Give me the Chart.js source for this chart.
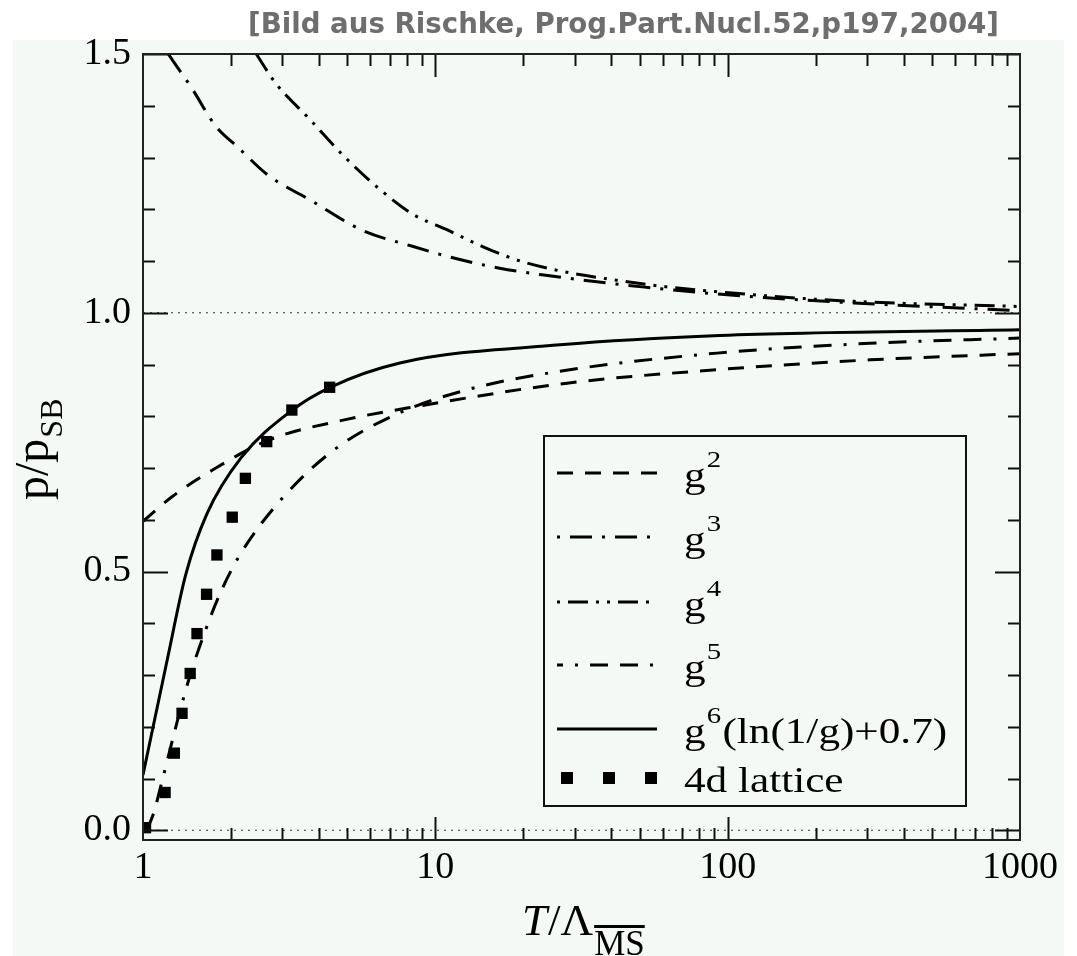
<!DOCTYPE html>
<html lang="de">
<head>
<meta charset="UTF-8">
<title>p/p_SB gegen T/Lambda</title>
<script src="https://cdn.jsdelivr.net/npm/chart.js"></script>
<style>
  body { margin: 0; background: #fff; }
  #wrap { position: relative; width: 1077px; height: 956px; }
</style>
</head>
<body>
<div id="wrap"><canvas id="c" width="1077" height="956"></canvas></div>
<script>
// x = T / Lambda_MSbar (log), y = p / p_SB
var g2T = [1, 1.26, 1.74, 2.69, 4.88, 8.64, 28.2, 92, 307, 1000];
var g2P = [0.597, 0.645, 0.697, 0.754, 0.793, 0.819, 0.864, 0.890, 0.909, 0.921];

var g3T = [1.22, 1.48, 1.77, 2.10, 2.69, 3.73, 5.6, 8.4, 11, 16.6, 22.8, 51, 115, 270, 1000];
var g3P = [1.5, 1.431, 1.361, 1.321, 1.265, 1.218, 1.160, 1.128, 1.109, 1.086, 1.074, 1.050, 1.032, 1.019, 1.004];

var g4T = [2.44, 2.84, 3.73, 4.88, 6.41, 8.4, 11, 14.5, 20.6, 51, 115, 270, 1000];
var g4P = [1.5, 1.444, 1.373, 1.302, 1.24, 1.19, 1.160, 1.128, 1.096, 1.056, 1.036, 1.022, 1.012];

var g5T = [1.03, 1.09, 1.15, 1.23, 1.33, 1.45, 1.62, 1.83, 2.16, 3.0, 4.5, 7.3, 12.8, 26.7, 92, 307, 1000];
var g5P = [0.0, 0.035, 0.085, 0.15, 0.225, 0.30, 0.38, 0.456, 0.535, 0.642, 0.735, 0.803, 0.851, 0.887, 0.922, 0.941, 0.951];

var g6T = [1, 1.21, 1.40, 1.65, 2.16, 3.24, 4.37, 7.57, 26.7, 94, 1000];
var g6P = [0.107, 0.329, 0.494, 0.61, 0.719, 0.812, 0.856, 0.903, 0.938, 0.956, 0.967];

var latT = [1.02, 1.19, 1.28, 1.36, 1.45, 1.53, 1.65, 1.79, 2.02, 2.24, 2.65, 3.23, 4.35];
var latP = [0.005, 0.073, 0.149, 0.226, 0.303, 0.38, 0.456, 0.532, 0.605, 0.68, 0.751, 0.812, 0.856];

var seriesLabels = ['g^2', 'g^3', 'g^4', 'g^5', 'g^6(ln(1/g)+0.7)', '4d lattice'];
var xRange = [1, 1000];
var xTicks = [1, 10, 100, 1000];
var yTicks = [0, 0.5, 1.0, 1.5];
var refLevels = [0, 1];

function pts(ts, ps) {
    return ts.map(function (t, i) { return { x: t, y: ps[i] }; });
}

function curve(label, ts, ps, dash, legendOffset) {
    return {
        label: label,
        data: pts(ts, ps),
        showLine: true,
        borderColor: '#000',
        borderWidth: 3,
        borderDash: dash,
        legendOffset: legendOffset,
        pointRadius: 0,
        cubicInterpolationMode: 'monotone'
    };
}

var datasets = [
    curve(seriesLabels[0], g2T, g2P, [16, 12], 0),
    curve(seriesLabels[1], g3T, g3P, [22, 10, 3, 10], 32),
    curve(seriesLabels[2], g4T, g4P, [20, 8, 3, 8, 3, 8], 39),
    curve(seriesLabels[3], g5T, g5P, [18, 12, 18, 12, 3, 12], 42),
    curve(seriesLabels[4], g6T, g6P, [], 0),
    {
        label: seriesLabels[5],
        data: pts(latT, latP),
        showLine: false,
        pointStyle: 'rect',
        pointRadius: 8,
        pointBackgroundColor: '#000',
        pointBorderColor: '#000',
        pointBorderWidth: 0
    }
];
refLevels.forEach(function (lv) {
    datasets.push({
        label: 'ref',
        data: xRange.map(function (x) { return { x: x, y: lv }; }),
        showLine: true,
        borderColor: '#333',
        borderWidth: 1,
        borderDash: [2, 5],
        pointRadius: 0
    });
});

var SERIF = '"Liberation Serif", "Times New Roman", serif';

var decor = {
    id: 'decor',
    beforeDraw: function (chart) {
        var c = chart.ctx;
        c.save();
        c.fillStyle = '#ffffff';
        c.fillRect(0, 0, chart.width, chart.height);
        c.fillStyle = '#f4f9f6';
        c.fillRect(13, 40, 1051, 916);
        c.restore();
    },
    afterDatasetsDraw: function (chart) {
        var c = chart.ctx, a = chart.chartArea, xs = chart.scales.x, ys = chart.scales.y;
        c.save();
        c.strokeStyle = '#111';
        c.lineWidth = 2;
        c.beginPath();
        // inward ticks, mirrored on all four sides
        [1, 10, 100].forEach(function (d) {
            for (var m = 1; m <= 9; m++) {
                var v = m * d;
                if (v === 1) continue;
                var px = Math.round(xs.getPixelForValue(v)) + 0.5;
                var len = m === 1 ? 23 : 12;
                c.moveTo(px, a.bottom); c.lineTo(px, a.bottom - len);
                c.moveTo(px, a.top); c.lineTo(px, a.top + len);
            }
        });
        for (var i = 0; i <= 15; i++) {
            var py = Math.round(ys.getPixelForValue(i / 10)) + 0.5;
            var len = i % 5 === 0 ? 25 : 12;
            c.moveTo(a.left, py); c.lineTo(a.left + len, py);
            c.moveTo(a.right, py); c.lineTo(a.right - len, py);
        }
        c.stroke();
        c.strokeStyle = '#222';
        c.strokeRect(a.left, a.top, a.right - a.left, a.bottom - a.top);
        c.restore();
    },
    afterDraw: function (chart) {
        var c = chart.ctx;
        c.save();
        c.fillStyle = '#000';
        c.textBaseline = 'alphabetic';

        // source note
        c.fillStyle = '#6e6e6e';
        c.font = 'bold 28px "DejaVu Sans", sans-serif';
        c.textAlign = 'right';
        c.fillText('[Bild aus Rischke, Prog.Part.Nucl.52,p197,2004]', 999, 33, 751);

        // x title
        c.fillStyle = '#000';
        c.textAlign = 'left';
        var x = 522;
        c.font = 'italic 45px ' + SERIF;
        c.fillText('T', x, 935);
        x += c.measureText('T').width + 1;
        c.font = '45px ' + SERIF;
        c.fillText('/\u039B', x, 935);
        x += c.measureText('/\u039B').width + 1;
        c.font = '35px ' + SERIF;
        c.fillText('MS', x, 955);
        var msw = c.measureText('MS').width;
        c.fillRect(x, 925, msw, 3);

        // y title
        c.save();
        c.translate(48, 500);
        c.rotate(-Math.PI / 2);
        c.font = '48px ' + SERIF;
        c.fillText('p/p', 0, 0);
        var pw = c.measureText('p/p').width;
        c.font = '32px ' + SERIF;
        c.fillText('SB', pw + 1, 14);
        c.restore();

        // legend
        var box = { l: 544, t: 436, r: 966, b: 806 };
        c.fillStyle = '#f4f9f6';
        c.fillRect(box.l, box.t, box.r - box.l, box.b - box.t);
        c.strokeStyle = '#111';
        c.lineWidth = 2;
        c.strokeRect(box.l, box.t, box.r - box.l, box.b - box.t);
        var rows = [473, 537, 602, 665, 729, 778];
        var ds = chart.data.datasets;
        for (var k = 0; k < 6; k++) {
            var d = ds[k], ry = rows[k];
            c.fillStyle = '#000';
            if (d.showLine) {
                c.save();
                c.strokeStyle = '#000';
                c.lineWidth = 3;
                c.setLineDash(d.borderDash);
                c.lineDashOffset = d.legendOffset;
                c.beginPath();
                c.moveTo(557, ry); c.lineTo(657, ry);
                c.stroke();
                c.restore();
            } else {
                [567, 609, 651].forEach(function (sx) { c.fillRect(sx - 6, ry - 6, 12, 12); });
            }
            var parts = d.label.split('^');
            c.save();
            c.translate(684, ry + 14);
            c.scale(1.2, 1);
            c.font = '36px ' + SERIF;
            c.fillText(parts[0], 0, 0);
            var tx = c.measureText(parts[0]).width;
            if (parts.length > 1) {
                var sup = parts[1].charAt(0), rest = parts[1].slice(1);
                c.font = '24px ' + SERIF;
                c.fillText(sup, tx + 1, -20);
                tx += c.measureText(sup).width + 2;
                c.font = '36px ' + SERIF;
                c.fillText(rest, tx, 0);
            }
            c.restore();
        }
        c.restore();
    }
};

new Chart(document.getElementById('c'), {
    type: 'scatter',
    data: { datasets: datasets },
    options: {
        responsive: false,
        animation: false,
        layout: { padding: { top: 54, right: 57, left: 0, bottom: 0 } },
        plugins: { legend: { display: false }, tooltip: { enabled: false } },
        scales: {
            x: {
                type: 'logarithmic',
                min: xRange[0],
                max: xRange[1],
                afterBuildTicks: function (s) { s.ticks = xTicks.map(function (v) { return { value: v }; }); },
                afterFit: function (s) { s.height = 116; },
                grid: { display: false, drawTicks: false },
                border: { display: false },
                ticks: {
                    color: '#000',
                    padding: 5,
                    maxRotation: 0,
                    font: { family: 'Liberation Serif', size: 38 },
                    callback: function (v) { return String(v); }
                }
            },
            y: {
                min: -0.0188,
                max: 1.5,
                afterBuildTicks: function (s) { s.ticks = yTicks.map(function (v) { return { value: v }; }); },
                afterFit: function (s) { s.width = 143; },
                grid: { display: false, drawTicks: false },
                border: { display: false },
                ticks: {
                    color: '#000',
                    padding: 12,
                    font: { family: 'Liberation Serif', size: 38 },
                    callback: function (v) { return v.toFixed(1); }
                }
            }
        }
    },
    plugins: [decor]
});
</script>
</body>
</html>
